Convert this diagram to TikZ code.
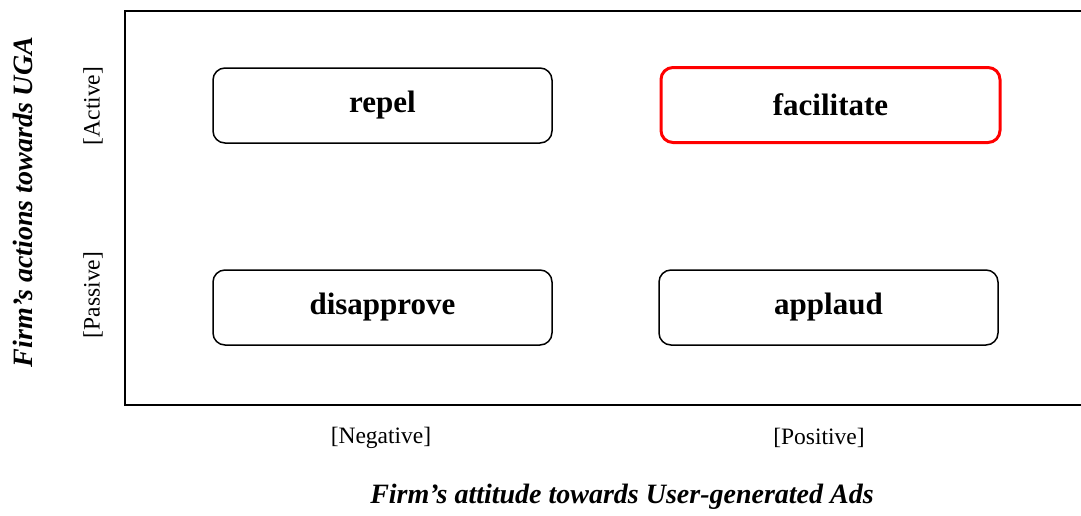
\documentclass[tikz,border=0pt]{standalone}
\usepackage{fontspec}
\setmainfont{Liberation Serif}
\begin{document}
\begin{tikzpicture}[x=1pt,y=-1pt,
  quad/.style={draw=black, line width=1.5pt, rounded corners=12pt, fill=white,
    minimum width=339pt, minimum height=75pt, inner sep=0pt,
    font=\fontsize{31}{36}\selectfont\bfseries},
  hot/.style={quad, draw={rgb,255:red,255;green,0;blue,0}, line width=3pt},
  tick/.style={font=\fontsize{23.5}{28}\selectfont, inner sep=0pt},
  axis title/.style={font=\fontsize{28}{33}\selectfont\bfseries\itshape, inner sep=0pt}]
\useasboundingbox (0,0) rectangle (1081,515);

% frame of the matrix (open on the right)
\coordinate (tr) at (1081,11);
\coordinate (tl) at (125,11);
\coordinate (bl) at (125,405);
\coordinate (br) at (1081,405);
\draw[line width=2pt] (tr) -- (tl) -- (bl) -- (br);

% quadrants
\node[quad] (repel) at (382.5,105.5) {repel};
\node[hot] (facilitate) at (830.5,105) {facilitate};
\node[quad] (disapprove) at (382.5,307.5) {disapprove};
\node[quad] (applaud) at (828.5,307.5) {applaud};

% axis levels
\node[tick, rotate=90] (active) at (93,106) {[Active]};
\node[tick, rotate=90] (passive) at (93,295) {[Passive]};
\node[tick] (negative) at (381,438) {[Negative]};
\node[tick] (positive) at (819,438) {[Positive]};

% axis titles
\node[axis title, rotate=90] (ytitle) at (23,202) {Firm’s actions towards UGA};
\node[axis title] (xtitle) at (622,497) {Firm’s attitude towards User-generated Ads};
\end{tikzpicture}
\end{document}
